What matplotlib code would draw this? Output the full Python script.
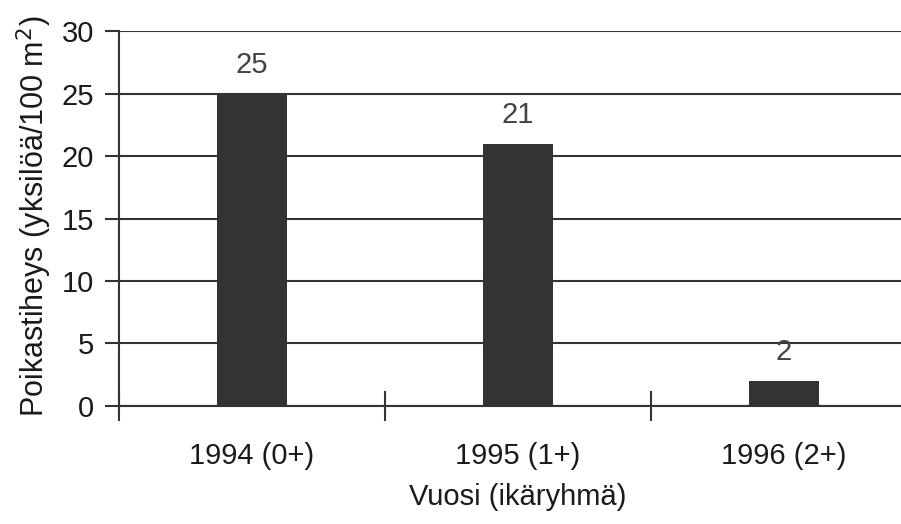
import matplotlib.pyplot as plt

years = ['1994 (0+)', '1995 (1+)', '1996 (2+)']
density = [25, 21, 2]
yticks = [0, 5, 10, 15, 20, 25, 30]

plt.rcParams['font.family'] = ['Liberation Sans', 'DejaVu Sans']

fig = plt.figure(figsize=(9.01, 5.24), dpi=100)
ax = fig.add_axes([0.1321, 0.2252, 0.8857, 0.7156])

x = range(len(years))
ax.bar(x, density, width=0.26, color='#333333', zorder=3)
for xi, v in zip(x, density):
    ax.text(xi, v + 1.2, str(v), ha='center', va='bottom', fontsize=21, color='#444444')

ax.set_ylim(0, 30)
ax.set_xlim(-0.5, 2.5)
ax.set_yticks(yticks)
ax.set_yticklabels([str(t) for t in yticks], fontsize=21, color='#1a1a1a')
ax.yaxis.grid(True, color='#333333', linewidth=1.5, zorder=1)

# category boundaries get the ticks, names sit in between
ax.set_xticks([-0.5, 0.5, 1.5, 2.5])
ax.set_xticklabels([])
ax.set_xticks(list(x), minor=True)
ax.set_xticklabels(years, minor=True, fontsize=21, color='#1a1a1a')
ax.tick_params(axis='x', which='major', direction='inout', length=22, width=1.5, color='#333333')
ax.tick_params(axis='x', which='minor', length=0, pad=26)
ax.tick_params(axis='y', length=10, width=1.5, color='#333333', pad=8)

for s in ['top', 'right']:
    ax.spines[s].set_visible(False)
for s in ['left', 'bottom']:
    ax.spines[s].set_linewidth(1.5)
    ax.spines[s].set_color('#333333')

ax.set_xlabel('Vuosi (ikäryhmä)', fontsize=21, color='#1a1a1a', labelpad=9)
fig.text(34 / 901, 1 - 216 / 524, 'Poikastiheys (yksilöä/100 m$^2$)', rotation=90,
         ha='center', va='center', fontsize=22, color='#1a1a1a')

fig.savefig('out.png', dpi=100)
